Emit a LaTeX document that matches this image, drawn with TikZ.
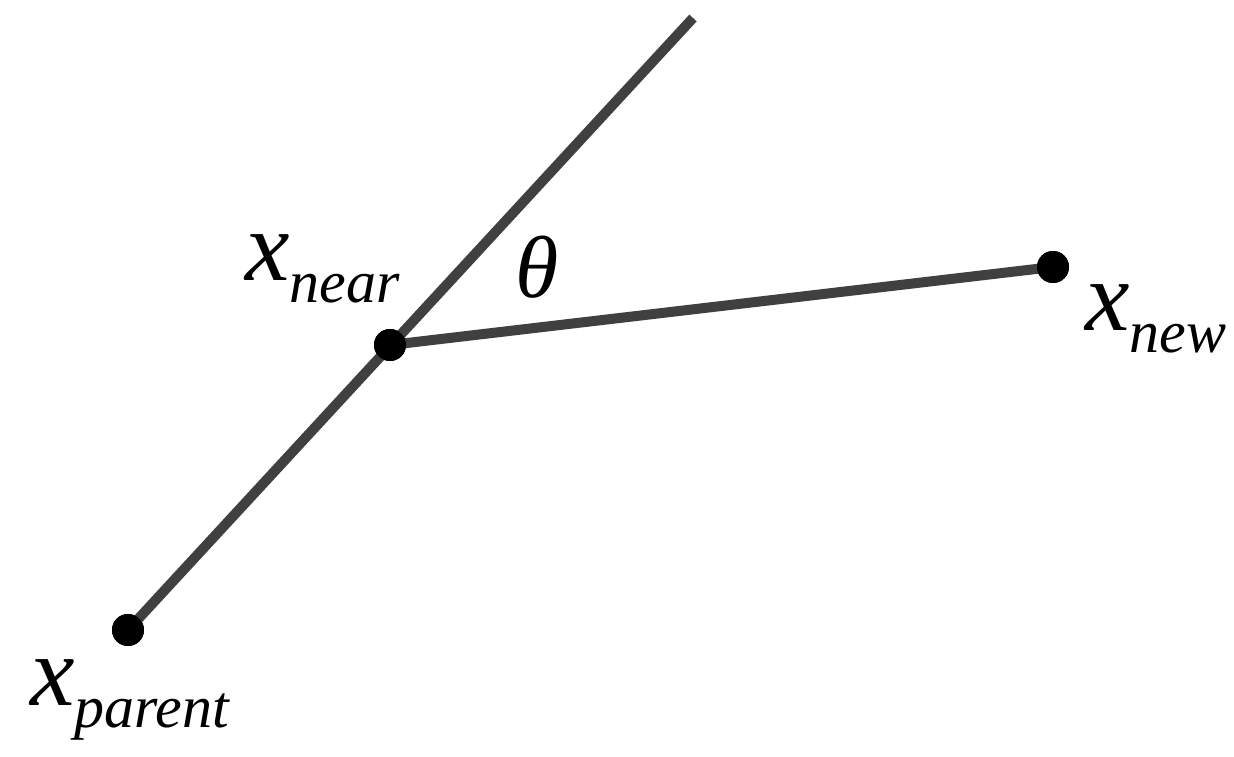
\documentclass[tikz,border=0pt]{standalone}
\usepackage{fontspec}
\setmainfont{Liberation Serif}
\tikzset{
  seg/.style={draw=black!75, line width=10pt},
  dot/.style={circle, fill=black, inner sep=0pt, minimum size=32pt},
  lbl/.style={inner sep=0pt, anchor=base west, font=\fontsize{100}{100}\selectfont\itshape},
}
\newcommand{\subtxt}[1]{\raisebox{-22pt}{\fontsize{60}{60}\selectfont\itshape #1}}
\begin{document}
\begin{tikzpicture}[x=1pt,y=-1pt]
\useasboundingbox (0,0) rectangle (1234,757);
\coordinate (top) at (693,18);
\node[dot] (parent) at (128,630) {};
\node[dot] (near) at (390,345) {};
\node[dot] (new) at (1053,267) {};
\draw[seg] (parent.center) -- (top);
\draw[seg] (near.center) -- (new.center);
\node[dot] at (parent) {};
\node[dot] at (near) {};
\node[dot] at (new) {};
\node[lbl] (lnear) at (245,280) {x\subtxt{near}};
\node[lbl] (lnew) at (1085,330) {x\subtxt{new}};
\node[lbl] (lparent) at (30,705) {x\subtxt{parent}};
\node[lbl, font=\fontsize{88}{88}\selectfont\itshape] (theta) at (515,297) {θ};
\end{tikzpicture}
\end{document}
